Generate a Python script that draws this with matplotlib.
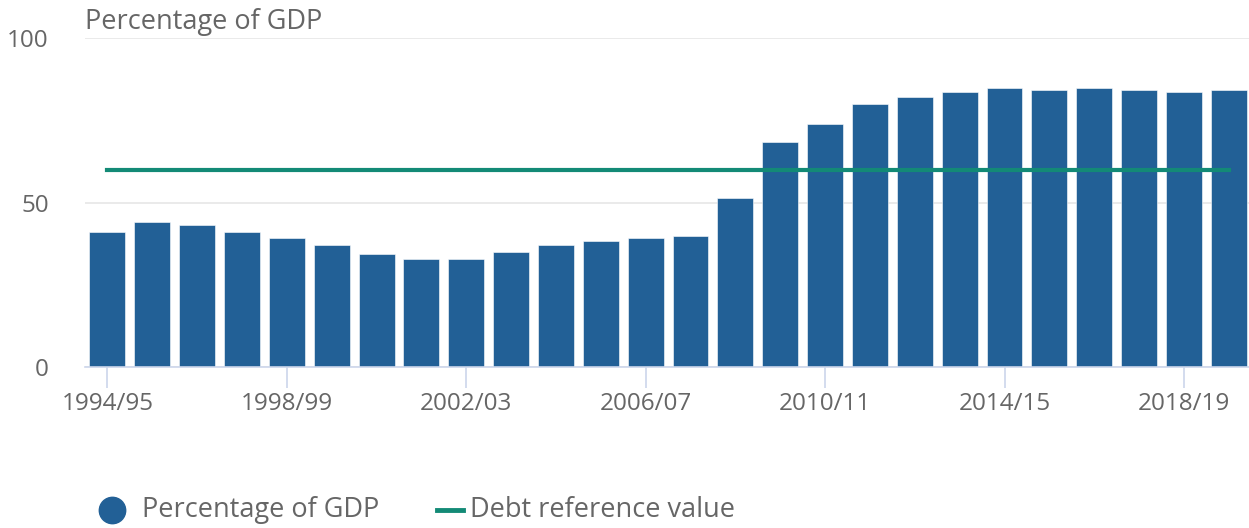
import numpy as np
import matplotlib.pyplot as plt
from matplotlib.lines import Line2D

plt.rcParams['font.family'] = ['Open Sans', 'DejaVu Sans']

years = ["1994/95", "1995/96", "1996/97", "1997/98", "1998/99", "1999/00",
         "2000/01", "2001/02", "2002/03", "2003/04", "2004/05", "2005/06",
         "2006/07", "2007/08", "2008/09", "2009/10", "2010/11", "2011/12",
         "2012/13", "2013/14", "2014/15", "2015/16", "2016/17", "2017/18",
         "2018/19", "2019/20"]
pct_gdp = [41.0, 44.1, 43.2, 41.0, 39.2, 37.1, 34.3, 32.8, 32.8, 35.0,
           37.1, 38.3, 39.2, 39.8, 51.4, 68.4, 73.9, 79.9, 82.1, 83.6,
           84.8, 84.2, 84.8, 84.2, 83.6, 84.2]
reference_value = 60

bar_col = "#226096"
line_col = "#138a76"
text_col = "#666666"
axis_col = "#ccd6eb"

W, H = 1249, 528
fig = plt.figure(figsize=(W / 100, H / 100), dpi=100)
ax = fig.add_axes([85 / W, 1 - 367 / H, 1 - 85 / W, (367 - 38) / H])

x = np.arange(len(years))
ax.bar(x, pct_gdp, width=0.8, color=bar_col, edgecolor="#ffffff", linewidth=0.4, zorder=2)
ax.plot([x[0], x[-1]], [reference_value, reference_value], color=line_col, lw=3, zorder=3)

ax.set_xlim(-0.5, len(years) - 0.55)
ax.set_ylim(0, 100)
ax.set_yticks([0, 50, 100])
ax.yaxis.grid(True, color="#e6e6e6", lw=1.2, zorder=0)
ax.set_axisbelow(True)

ax.set_xticks(x[::4])
ax.set_xticklabels(years[::4])
ax.tick_params(axis="x", length=15, width=1.2, color=axis_col, labelsize=17.5,
               labelcolor=text_col, pad=3)
ax.tick_params(axis="y", length=0, labelsize=17.5, labelcolor=text_col, pad=26)

for s in ["top", "right", "left"]:
    ax.spines[s].set_visible(False)
ax.spines["bottom"].set_color(axis_col)
ax.spines["bottom"].set_linewidth(1.2)

fig.text(85 / W, 1 - 22 / H, "Percentage of GDP", fontsize=19.5, color=text_col,
         va="center", ha="left")

# legend drawn by hand so the spacing follows the reference
ly = 1 - 510 / H
fig.add_artist(Line2D([112 / W], [ly], marker="o", ls="none", markersize=19,
                      color=bar_col, transform=fig.transFigure))
fig.text(142 / W, ly, "Percentage of GDP", fontsize=19.5, color=text_col,
         va="center", ha="left")
fig.add_artist(Line2D([437 / W, 463 / W], [ly, ly], lw=3.5, color=line_col,
                      transform=fig.transFigure))
fig.text(470 / W, ly, "Debt reference value", fontsize=19.5, color=text_col,
         va="center", ha="left")

fig.savefig("out.png", dpi=100)
